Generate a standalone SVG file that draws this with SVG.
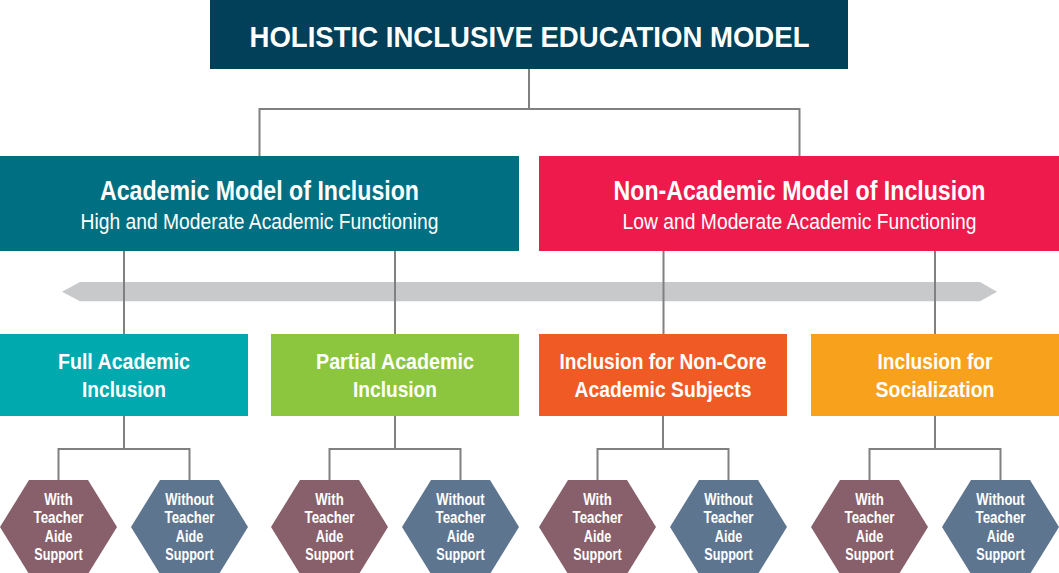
<svg xmlns="http://www.w3.org/2000/svg" width="1059" height="573" viewBox="0 0 1059 573">
<style>
text{font-family:"Liberation Sans",Arial,sans-serif;fill:#fff;text-anchor:middle}
.b{font-weight:bold}
.t0{font-size:30px}
.t1{font-size:27.5px}
.st{font-size:22px}
.t2{font-size:22.5px}
.hx{font-size:16px;font-weight:bold}
.con{fill:none;stroke:#808080;stroke-width:2}
.with{fill:#87606b}
.without{fill:#5e7590}
</style>
<defs>
<polygon id="hex" points="-29.5,-47 29.5,-47 58.5,0 29.5,47 -29.5,47 -58.5,0"/>
</defs>
<rect width="1059" height="573" fill="#fff"/>

<g id="spectrum-arrow">
<polygon points="62,291.7 80,282 980,282 997,291.7 980,301.3 80,301.3" fill="#c8c9cb"/>
</g>

<g id="connectors" class="con">
<path d="M529,69V109M259.5,156V109H799.5V156"/>
<path d="M124,251V334M395,251V334M663.5,251V334M935,251V334"/>
<path d="M124,416V449M58.5,480V449H189.5V480"/>
<path d="M395,416V449M329.5,480V449H460.5V480"/>
<path d="M663,416V449M597.5,480V449H728.5V480"/>
<path d="M935,416V449M869.5,480V449H1000.5V480"/>
</g>

<g id="root">
<rect x="210" y="0" width="638" height="69" fill="#023f58"/>
<text class="b t0" x="529.5" y="46.7" textLength="560" lengthAdjust="spacingAndGlyphs">HOLISTIC INCLUSIVE EDUCATION MODEL</text>
</g>

<g id="academic-model">
<rect x="0" y="156" width="519" height="95" fill="#006f82"/>
<text class="b t1" x="259.5" y="200" textLength="319" lengthAdjust="spacingAndGlyphs">Academic Model of Inclusion</text>
<text class="st" x="259.5" y="229" textLength="358" lengthAdjust="spacingAndGlyphs">High and Moderate Academic Functioning</text>
</g>

<g id="non-academic-model">
<rect x="539" y="156" width="520" height="95" fill="#ed1a4b"/>
<text class="b t1" x="799.5" y="200" textLength="372" lengthAdjust="spacingAndGlyphs">Non-Academic Model of Inclusion</text>
<text class="st" x="799.5" y="229" textLength="354" lengthAdjust="spacingAndGlyphs">Low and Moderate Academic Functioning</text>
</g>

<g id="full-academic">
<rect x="0" y="334" width="248" height="82" fill="#00a9ad"/>
<text class="b t2" x="124" y="369.3" textLength="132" lengthAdjust="spacingAndGlyphs">Full Academic</text>
<text class="b t2" x="124" y="396.7" textLength="84" lengthAdjust="spacingAndGlyphs">Inclusion</text>
</g>

<g id="partial-academic">
<rect x="271" y="334" width="248" height="82" fill="#8cc63f"/>
<text class="b t2" x="395" y="369.3" textLength="158" lengthAdjust="spacingAndGlyphs">Partial Academic</text>
<text class="b t2" x="395" y="396.7" textLength="84" lengthAdjust="spacingAndGlyphs">Inclusion</text>
</g>

<g id="non-core">
<rect x="539" y="334" width="248" height="82" fill="#f05a24"/>
<text class="b t2" x="663" y="369.3" textLength="207" lengthAdjust="spacingAndGlyphs">Inclusion for Non-Core</text>
<text class="b t2" x="663" y="396.7" textLength="177" lengthAdjust="spacingAndGlyphs">Academic Subjects</text>
</g>

<g id="socialization">
<rect x="811" y="334" width="248" height="82" fill="#f7a11c"/>
<text class="b t2" x="935" y="369.3" textLength="115" lengthAdjust="spacingAndGlyphs">Inclusion for</text>
<text class="b t2" x="935" y="396.7" textLength="119" lengthAdjust="spacingAndGlyphs">Socialization</text>
</g>

<g id="full-with">
<use href="#hex" x="58.5" y="527" class="with"/>
<text class="hx" x="58.5" y="505" textLength="28.4" lengthAdjust="spacingAndGlyphs">With</text>
<text class="hx" x="58.5" y="523.3" textLength="50" lengthAdjust="spacingAndGlyphs">Teacher</text>
<text class="hx" x="58.5" y="541.7" textLength="27.4" lengthAdjust="spacingAndGlyphs">Aide</text>
<text class="hx" x="58.5" y="560" textLength="48.4" lengthAdjust="spacingAndGlyphs">Support</text>
</g>
<g id="full-without">
<use href="#hex" x="189.5" y="527" class="without"/>
<text class="hx" x="189.5" y="505" textLength="48.3" lengthAdjust="spacingAndGlyphs">Without</text>
<text class="hx" x="189.5" y="523.3" textLength="50" lengthAdjust="spacingAndGlyphs">Teacher</text>
<text class="hx" x="189.5" y="541.7" textLength="27.4" lengthAdjust="spacingAndGlyphs">Aide</text>
<text class="hx" x="189.5" y="560" textLength="48.4" lengthAdjust="spacingAndGlyphs">Support</text>
</g>

<g id="partial-with">
<use href="#hex" x="329.5" y="527" class="with"/>
<text class="hx" x="329.5" y="505" textLength="28.4" lengthAdjust="spacingAndGlyphs">With</text>
<text class="hx" x="329.5" y="523.3" textLength="50" lengthAdjust="spacingAndGlyphs">Teacher</text>
<text class="hx" x="329.5" y="541.7" textLength="27.4" lengthAdjust="spacingAndGlyphs">Aide</text>
<text class="hx" x="329.5" y="560" textLength="48.4" lengthAdjust="spacingAndGlyphs">Support</text>
</g>
<g id="partial-without">
<use href="#hex" x="460.5" y="527" class="without"/>
<text class="hx" x="460.5" y="505" textLength="48.3" lengthAdjust="spacingAndGlyphs">Without</text>
<text class="hx" x="460.5" y="523.3" textLength="50" lengthAdjust="spacingAndGlyphs">Teacher</text>
<text class="hx" x="460.5" y="541.7" textLength="27.4" lengthAdjust="spacingAndGlyphs">Aide</text>
<text class="hx" x="460.5" y="560" textLength="48.4" lengthAdjust="spacingAndGlyphs">Support</text>
</g>

<g id="noncore-with">
<use href="#hex" x="597.5" y="527" class="with"/>
<text class="hx" x="597.5" y="505" textLength="28.4" lengthAdjust="spacingAndGlyphs">With</text>
<text class="hx" x="597.5" y="523.3" textLength="50" lengthAdjust="spacingAndGlyphs">Teacher</text>
<text class="hx" x="597.5" y="541.7" textLength="27.4" lengthAdjust="spacingAndGlyphs">Aide</text>
<text class="hx" x="597.5" y="560" textLength="48.4" lengthAdjust="spacingAndGlyphs">Support</text>
</g>
<g id="noncore-without">
<use href="#hex" x="728.5" y="527" class="without"/>
<text class="hx" x="728.5" y="505" textLength="48.3" lengthAdjust="spacingAndGlyphs">Without</text>
<text class="hx" x="728.5" y="523.3" textLength="50" lengthAdjust="spacingAndGlyphs">Teacher</text>
<text class="hx" x="728.5" y="541.7" textLength="27.4" lengthAdjust="spacingAndGlyphs">Aide</text>
<text class="hx" x="728.5" y="560" textLength="48.4" lengthAdjust="spacingAndGlyphs">Support</text>
</g>

<g id="social-with">
<use href="#hex" x="869.5" y="527" class="with"/>
<text class="hx" x="869.5" y="505" textLength="28.4" lengthAdjust="spacingAndGlyphs">With</text>
<text class="hx" x="869.5" y="523.3" textLength="50" lengthAdjust="spacingAndGlyphs">Teacher</text>
<text class="hx" x="869.5" y="541.7" textLength="27.4" lengthAdjust="spacingAndGlyphs">Aide</text>
<text class="hx" x="869.5" y="560" textLength="48.4" lengthAdjust="spacingAndGlyphs">Support</text>
</g>
<g id="social-without">
<use href="#hex" x="1000.5" y="527" class="without"/>
<text class="hx" x="1000.5" y="505" textLength="48.3" lengthAdjust="spacingAndGlyphs">Without</text>
<text class="hx" x="1000.5" y="523.3" textLength="50" lengthAdjust="spacingAndGlyphs">Teacher</text>
<text class="hx" x="1000.5" y="541.7" textLength="27.4" lengthAdjust="spacingAndGlyphs">Aide</text>
<text class="hx" x="1000.5" y="560" textLength="48.4" lengthAdjust="spacingAndGlyphs">Support</text>
</g>
</svg>
